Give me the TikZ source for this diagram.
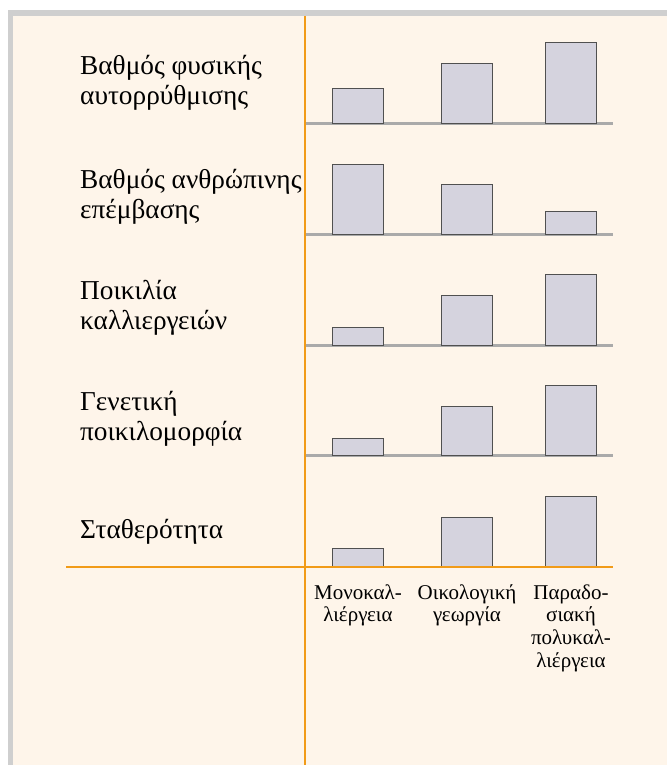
\documentclass[tikz,border=0pt]{standalone}
\usepackage{fontspec}
\setmainfont{Liberation Serif}
\definecolor{cream}{RGB}{254,245,234}
\definecolor{framegrey}{RGB}{207,207,207}
\definecolor{axisorange}{RGB}{241,155,24}
\definecolor{basegrey}{RGB}{170,170,170}
\definecolor{barfill}{RGB}{213,211,222}
\definecolor{baredge}{RGB}{80,80,80}
\begin{document}
\begin{tikzpicture}[x=1pt,y=-1pt,
  % multi-line nodes: the base anchor sits on the last line's baseline
  rowlabel/.style={anchor=base west,align=left,inner sep=0pt,
    font=\fontsize{27.3}{30}\selectfont},
  collabel/.style={anchor=base,align=center,inner sep=0pt,
    font=\fontsize{21}{22.6}\selectfont},
  baseline rule/.style={draw=basegrey,line width=3pt},
  axis/.style={draw=axisorange,line width=2pt},
  bar/.style={fill=barfill,draw=baredge,line width=1pt}]
\useasboundingbox (0,0) rectangle (667,765);
\fill[white] (0,0) rectangle (667,765);
\fill[framegrey] (7.5,10) rectangle (667,765);
\fill[cream] (13,16) rectangle (667,765);

% row captions
\node[rowlabel] (r1) at (80,105) {Βαθμός φυσικής\\αυτορρύθμισης};
\node[rowlabel] (r2) at (80,218) {Βαθμός ανθρώπινης\\επέμβασης};
\node[rowlabel] (r3) at (80,329) {Ποικιλία\\καλλιεργειών};
\node[rowlabel] (r4) at (80,440) {Γενετική\\ποικιλομορφία};
\node[rowlabel] (r5) at (80,538) {Σταθερότητα};

% baselines of the first four rows
\foreach \yb in {123.5,234,345,455.7}
  \draw[baseline rule] (306,\yb) -- (613,\yb);

% bars: baseline / heights for the three farming types
\foreach \yb/\ha/\hb/\hc in {123.5/35/59.6/80.6, 234/70/49.3/22.7,
    345/17.7/49.3/70.3, 455.7/17.7/49.3/70.7, 566.7/18/49.3/70.7} {
  \draw[bar] (332.5,\yb) rectangle (383.8,\yb-\ha);
  \draw[bar] (441,\yb) rectangle (492.3,\yb-\hb);
  \draw[bar] (545,\yb) rectangle (596,\yb-\hc);
}

% orange axes
\draw[axis] (304.5,16) -- (304.5,765);
\draw[axis] (66,566.7) -- (613,566.7);

% column captions
\node[collabel] (c1) at (358,621.9) {Μονοκαλ-\\λιέργεια};
\node[collabel] (c2) at (467,621.9) {Οικολογική\\γεωργία};
\node[collabel] (c3) at (571,667.1) {Παραδο-\\σιακή\\πολυκαλ-\\λιέργεια};
\end{tikzpicture}
\end{document}
